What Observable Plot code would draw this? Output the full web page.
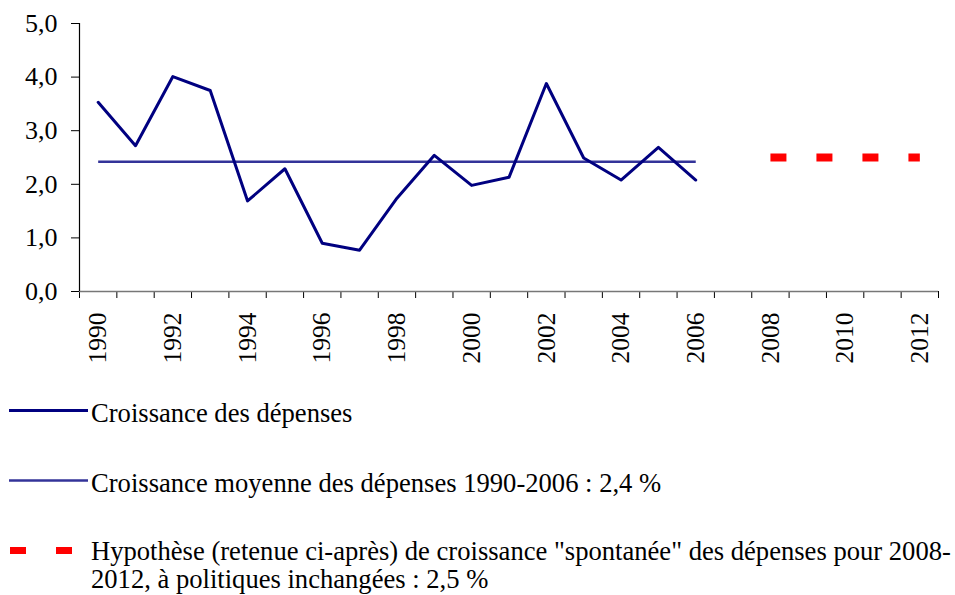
<!DOCTYPE html>
<html>
<head>
<meta charset="utf-8">
<script src="https://cdn.jsdelivr.net/npm/d3@7"></script>
<script src="https://cdn.jsdelivr.net/npm/@observablehq/plot@0.6"></script>
<style>
  html, body { margin: 0; padding: 0; background: #fff; }
  body { width: 955px; height: 595px; position: relative; overflow: hidden;
         font-family: 'Liberation Serif', 'Times New Roman', serif; color: #000; }
  #chart { position: absolute; left: 0; top: 0; }
  .leg { position: absolute; font-family: 'Liberation Serif', 'Times New Roman', serif; font-size: 26.6px; line-height: 28px; white-space: nowrap; }
  .sw { position: absolute; }
</style>
</head>
<body>
<div id="chart"></div>

<svg class="sw" style="left:0;top:400px" width="90" height="20">
  <line x1="9" x2="88" y1="10.5" y2="10.5" stroke="#000080" stroke-width="3"/>
</svg>
<div class="leg" style="left:91px;top:399px">Croissance des dépenses</div>

<svg class="sw" style="left:0;top:471px" width="90" height="20">
  <line x1="9" x2="88" y1="9.5" y2="9.5" stroke="#333399" stroke-width="2.5"/>
</svg>
<div class="leg" style="left:91px;top:469px">Croissance moyenne des dépenses 1990-2006 : 2,4 %</div>

<svg class="sw" style="left:0;top:540px" width="90" height="20">
  <line x1="10" x2="72" y1="10.5" y2="10.5" stroke="#ff0000" stroke-width="7" stroke-dasharray="16,30"/>
</svg>
<div class="leg" style="left:91px;top:537px">Hypothèse (retenue ci-après) de croissance "spontanée" des dépenses pour 2008-<br>2012, à politiques inchangées : 2,5 %</div>

<script>
// ---- data ----
const years = [1990, 1991, 1992, 1993, 1994, 1995, 1996, 1997, 1998, 1999, 2000, 2001, 2002, 2003, 2004, 2005, 2006];
const growth = [3.53, 2.72, 4.01, 3.75, 1.69, 2.29, 0.90, 0.77, 1.74, 2.54, 1.98, 2.13, 3.88, 2.49, 2.08, 2.69, 2.08];

const meanYears = [1990, 2006];
const meanValues = [2.42, 2.42];

const projYears = [2008, 2009, 2010, 2011, 2012];
const projValues = [2.5, 2.5, 2.5, 2.5, 2.5];

const allYears = [1990, 1991, 1992, 1993, 1994, 1995, 1996, 1997, 1998, 1999, 2000, 2001, 2002, 2003, 2004, 2005, 2006, 2007, 2008, 2009, 2010, 2011, 2012];
const xTickLabels = [1990, 1992, 1994, 1996, 1998, 2000, 2002, 2004, 2006, 2008, 2010, 2012];
const yTicks = [0, 1, 2, 3, 4, 5];

// ---- tables built from arrays ----
const growthData = years.map((y, i) => ({year: y, value: growth[i]}));
const meanData = meanYears.map((y, i) => ({year: y, value: meanValues[i]}));
const projData = projYears.map((y, i) => ({year: y, value: projValues[i]}));
const boundaries = allYears.map(y => y - 0.5).concat([allYears[allYears.length - 1] + 0.5]);

const fmt = d => d.toFixed(1).replace(".", ",");

const chart = Plot.plot({
  width: 955,
  height: 375,
  marginLeft: 79,
  marginRight: 17,
  marginTop: 23,
  marginBottom: 84,
  x: {type: "linear", domain: [boundaries[0], boundaries[boundaries.length - 1]]},
  y: {domain: [0, 5]},
  style: {fontFamily: "'Liberation Serif', 'Times New Roman', serif", fontSize: "26px", color: "#000", background: "#fff", overflow: "visible"},
  marks: [
    Plot.axisY({ticks: yTicks, tickSize: 8, tickPadding: 14, tickFormat: fmt, fontSize: 26, label: null}),
    Plot.axisX({ticks: boundaries, tickSize: 7, tickFormat: () => "", label: null}),
    Plot.axisX({ticks: xTickLabels, tickSize: 0, tickPadding: 21, tickRotate: -90, tickFormat: d => String(d), fontSize: 25.5, label: null}),
    Plot.ruleY([0], {stroke: "#777", strokeWidth: 1.5}),
    Plot.ruleX([boundaries[0]], {stroke: "#000", strokeWidth: 1.2}),
    Plot.line(meanData, {x: "year", y: "value", stroke: "#333399", strokeWidth: 2.5, strokeLinecap: "butt"}),
    Plot.line(growthData, {x: "year", y: "value", stroke: "#000080", strokeWidth: 3}),
    Plot.line(projData, {x: "year", y: "value", stroke: "#ff0000", strokeWidth: 8, strokeDasharray: "16,30", strokeLinecap: "butt"})
  ]
});
document.getElementById("chart").appendChild(chart);
</script>
</body>
</html>
